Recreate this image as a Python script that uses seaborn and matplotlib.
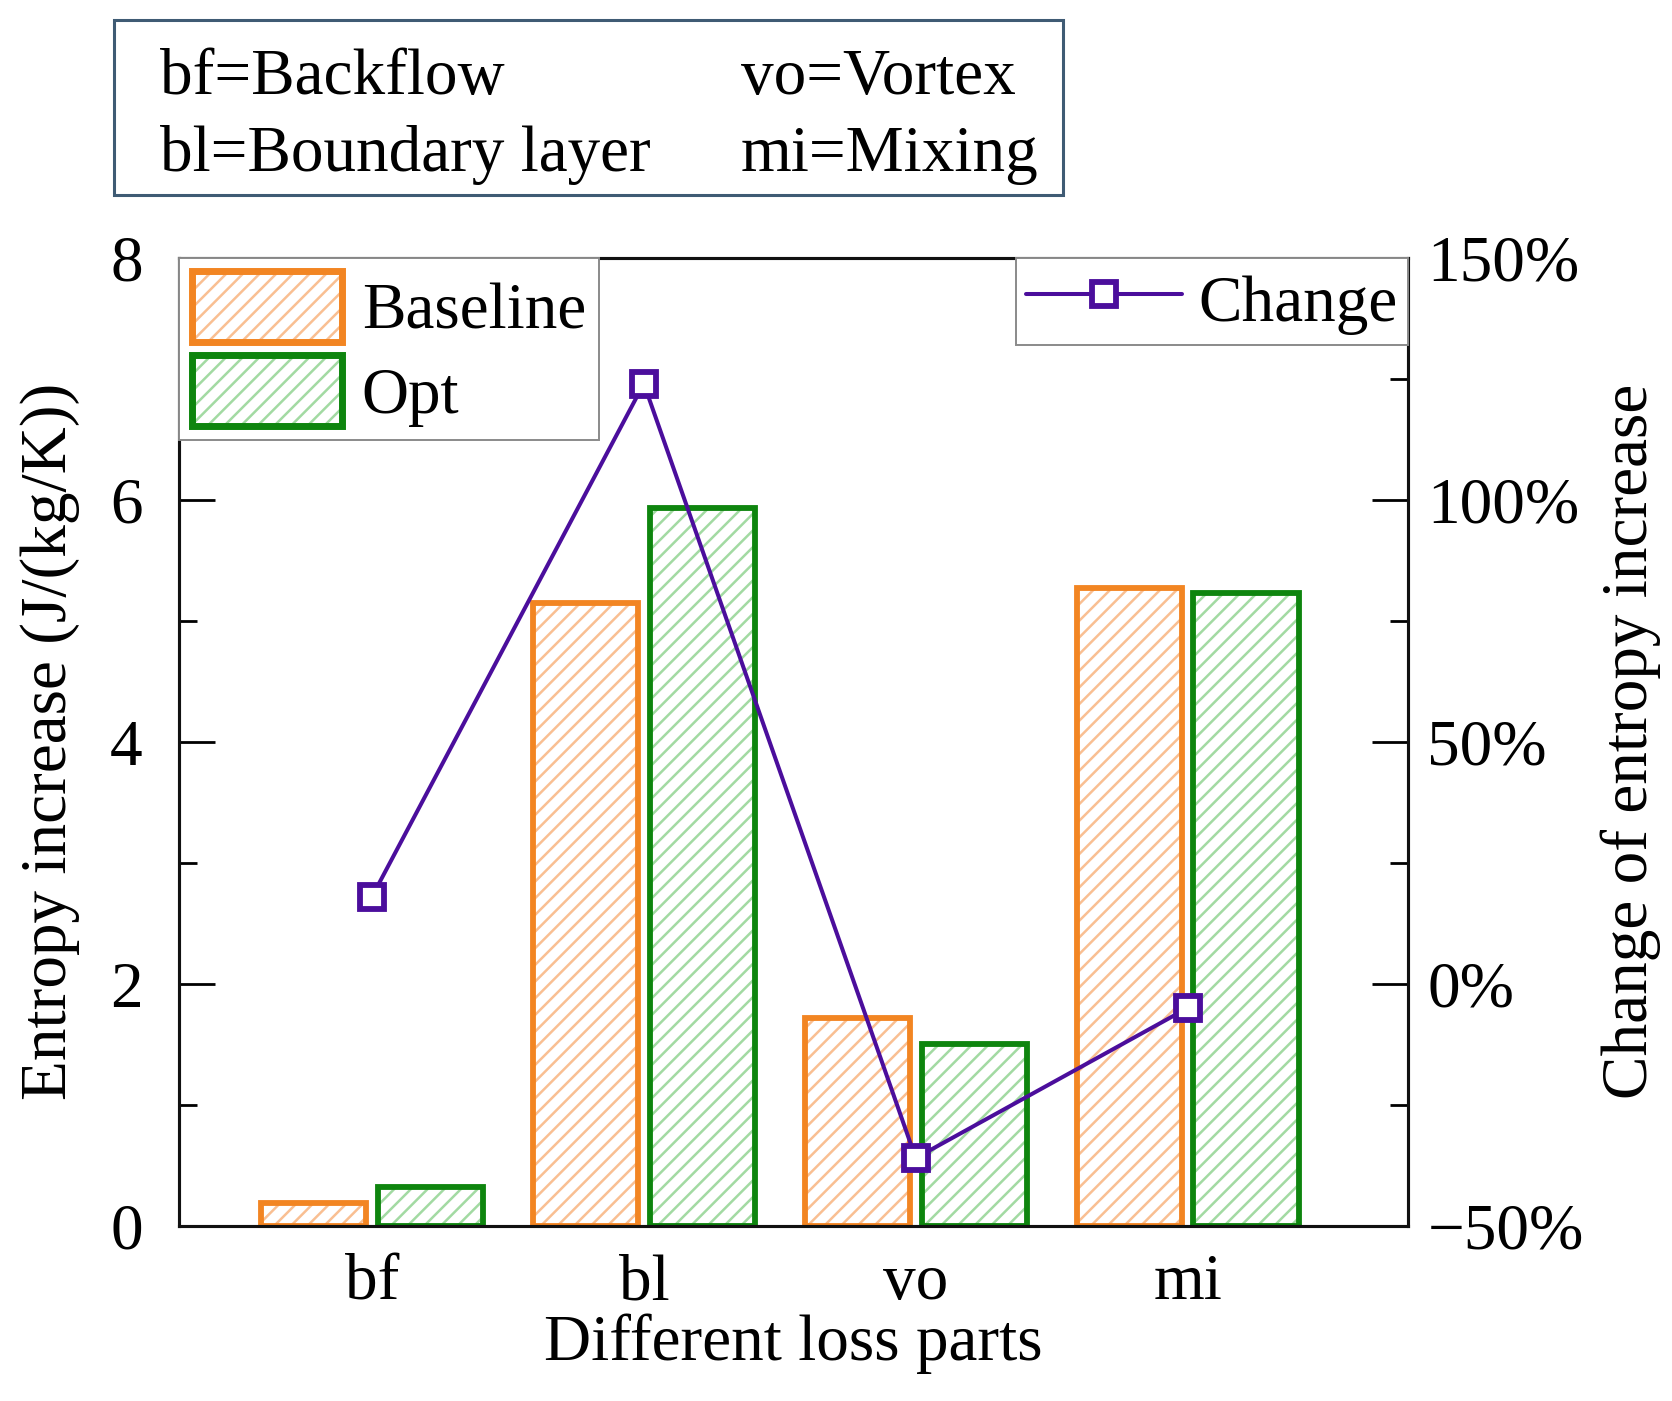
import numpy as np
import pandas as pd
import matplotlib
matplotlib.use('Agg')
import matplotlib.pyplot as plt
from matplotlib.patches import Rectangle, Patch
from matplotlib.lines import Line2D
from matplotlib.legend_handler import HandlerTuple
from matplotlib.ticker import MultipleLocator
import seaborn as sns

# data
parts = ['bf', 'bl', 'vo', 'mi']
baseline = [0.19, 5.15, 1.72, 5.27]
opt = [0.32, 5.93, 1.50, 5.23]
change = [18, 124, -36, -5]          # percent
right_ticks = [-50, 0, 50, 100, 150]
left_ticks = [0, 2, 4, 6, 8]

ORANGE, ORANGE_H = '#F28522', '#F9BF92'
GREEN, GREEN_H = '#0E850E', '#A2DAA2'
PURPLE = '#4B0E9C'

sns.set_style('ticks')
plt.rcParams['font.family'] = ['Liberation Serif', 'DejaVu Serif']
plt.rcParams['hatch.linewidth'] = 1.8
for k in ('text.color', 'axes.labelcolor', 'xtick.color', 'ytick.color'):
    plt.rcParams[k] = 'black'
FS = 47

df = pd.DataFrame({'part': parts * 2,
                   'case': ['Baseline'] * 4 + ['Opt'] * 4,
                   'value': baseline + opt})

fig = plt.figure(figsize=(16.72, 14.01), dpi=100)
ax = fig.add_axes([0.107, 0.125, 0.735, 0.691])

sns.barplot(data=df, x='part', y='value', hue='case', order=parts,
            hue_order=['Baseline', 'Opt'],
            palette={'Baseline': ORANGE, 'Opt': GREEN},
            width=0.86, gap=0.1, errorbar=None, legend=False, ax=ax)

# hatch in a light tint, outline in the full colour
bars = list(ax.patches)
for i, p in enumerate(bars):
    dark, light = (ORANGE, ORANGE_H) if i < len(parts) else (GREEN, GREEN_H)
    p.set_facecolor('white')
    p.set_edgecolor(light)
    p.set_linewidth(0)
    p.set_hatch('//')
    ax.add_patch(Rectangle(p.get_xy(), p.get_width(), p.get_height(),
                           fill=False, ec=dark, lw=4.2, zorder=p.get_zorder() + 0.1))

ax.set_ylim(0, 8)
ax.set_yticks(left_ticks)
ax.yaxis.set_minor_locator(MultipleLocator(1))
ax.set_xlabel('Different loss parts', fontsize=FS, labelpad=0)
ax.set_ylabel('Entropy increase (J/(kg/K))', fontsize=FS, labelpad=22)
ax.tick_params(axis='y', which='major', direction='in', length=26, width=2,
               labelsize=FS, pad=26, right=False)
ax.tick_params(axis='y', which='minor', direction='in', length=13, width=2,
               right=False)
ax.tick_params(axis='x', length=0, labelsize=FS, pad=20)

ax2 = ax.twinx()
sns.pointplot(x=parts, y=change, order=parts, color=PURPLE, markers='s',
              linestyles='-', markersize=17, markerfacecolor='white',
              markeredgewidth=4.2, linewidth=2.9, errorbar=None, ax=ax2)
ax2.set_ylim(-50, 150)
ax2.set_yticks(right_ticks)
ax2.set_yticklabels([f'{t}%'.replace('-', '\u2212') for t in right_ticks])
ax2.yaxis.set_minor_locator(MultipleLocator(25))
ax2.set_ylabel('Change of entropy increase', fontsize=FS, labelpad=12)
ax2.tick_params(axis='y', which='major', direction='in', length=26, width=2,
                labelsize=FS, pad=14)
ax2.tick_params(axis='y', which='minor', direction='in', length=13, width=2)
ax.set_xlim(-0.71, 3.81)

for a in (ax, ax2):
    for s in a.spines.values():
        s.set_visible(True)
        s.set_linewidth(2.2)
        s.set_color('#111111')

# legends
bar_handles = [(Patch(fc='white', ec=ORANGE_H, hatch='//', lw=0),
                Patch(fill=False, ec=ORANGE, lw=5)),
               (Patch(fc='white', ec=GREEN_H, hatch='//', lw=0),
                Patch(fill=False, ec=GREEN, lw=5))]
leg1 = ax2.legend(bar_handles, ['Baseline', 'Opt'], loc='upper left',
                  handler_map={tuple: HandlerTuple(ndivide=1, pad=0)},
                  fontsize=FS, handlelength=2.3, handleheight=1.3,
                  handletextpad=0.3, labelspacing=0.2, borderpad=0.2,
                  borderaxespad=0, fancybox=False, framealpha=1,
                  edgecolor='#8a8a8a')
leg1.get_frame().set_linewidth(1.4)
ax2.add_artist(leg1)
line_handle = Line2D([], [], color=PURPLE, lw=2.9, marker='s', markersize=17,
                     markerfacecolor='white', markeredgewidth=4.2)
leg2 = ax2.legend([line_handle], ['Change'], loc='upper right',
                  fontsize=FS, handlelength=2.4, handletextpad=0.25,
                  handleheight=1.1, borderpad=0.15, borderaxespad=0,
                  fancybox=False, framealpha=1, edgecolor='#8a8a8a')
leg2.get_frame().set_linewidth(1.4)

# abbreviation box on top
fig.add_artist(Rectangle((0.068, 0.861), 0.568, 0.125, transform=fig.transFigure,
                         fill=False, ec='#3f5b74', lw=2.2))
fig.text(0.0957, 0.933, 'bf=Backflow', fontsize=FS, va='baseline')
fig.text(0.0957, 0.878, 'bl=Boundary layer', fontsize=FS, va='baseline')
fig.text(0.443, 0.933, 'vo=Vortex', fontsize=FS, va='baseline')
fig.text(0.443, 0.878, 'mi=Mixing', fontsize=FS, va='baseline')

plt.savefig('out.png', dpi=100)
